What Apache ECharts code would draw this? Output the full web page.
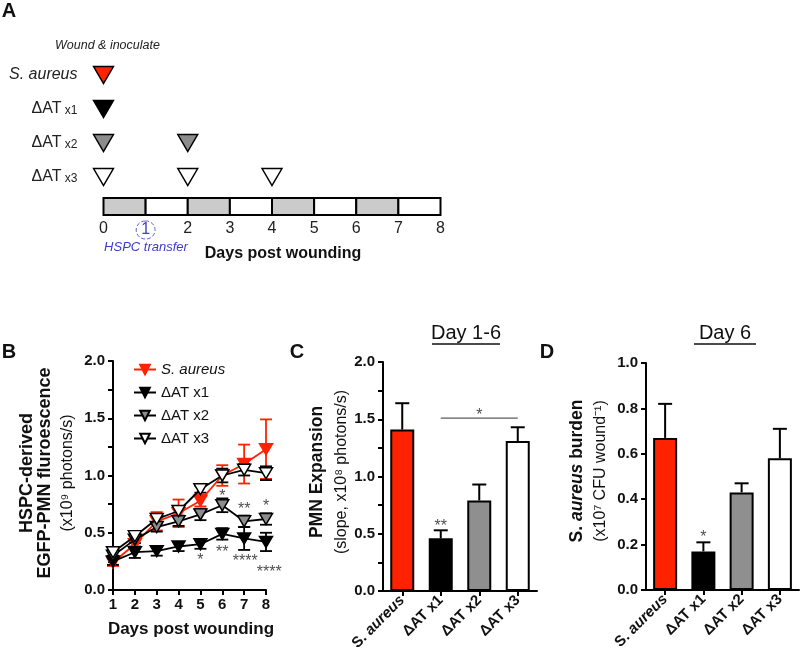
<!DOCTYPE html>
<html><head><meta charset="utf-8">
<script src="https://cdn.jsdelivr.net/npm/echarts@6/dist/echarts.min.js"></script>
<style>html,body{margin:0;padding:0;background:#fff}#c{width:800px;height:656px}</style>
</head><body><div id="c"></div>
<script>
// ---------- Panel A: schedule ----------
const schedRows = ['S. aureus', 'ΔAT x1', 'ΔAT x2', 'ΔAT x3'];
const schedDays = [[0], [0], [0, 2], [0, 2, 4]];
const timelineDays = [0, 1, 2, 3, 4, 5, 6, 7, 8];
const shadedDays = [0, 2, 4, 6];
const transferDay = 1;

// ---------- Panel B: time course ----------
const days = [1, 2, 3, 4, 5, 6, 7, 8];
const seriesNames = ['S. aureus', 'ΔAT x1', 'ΔAT x2', 'ΔAT x3'];
const saMean = [0.24, 0.40, 0.60, 0.67, 0.78, 1.00, 1.10, 1.23];
const saErr  = [0.03, 0.04, 0.08, 0.12, 0.05, 0.09, 0.17, 0.26];
const x1Mean = [0.25, 0.33, 0.34, 0.38, 0.40, 0.49, 0.45, 0.42];
const x1Err  = [0.03, 0.05, 0.04, 0.04, 0.04, 0.05, 0.10, 0.08];
const x2Mean = [0.30, 0.44, 0.55, 0.60, 0.66, 0.74, 0.60, 0.62];
const x2Err  = [0.03, 0.03, 0.04, 0.04, 0.05, 0.06, 0.05, 0.05];
const x3Mean = [0.33, 0.47, 0.62, 0.69, 0.88, 1.00, 1.05, 1.02];
const x3Err  = [0.03, 0.03, 0.04, 0.04, 0.03, 0.06, 0.05, 0.06];
// significance marks: [day, value, text]
const bSig = [[6, 0.85, '*'], [7, 0.74, '**'], [8, 0.76, '*'], [5, 0.29, '*'], [6, 0.36, '**'], [7.05, 0.28, '****'], [8.15, 0.19, '****']];

// ---------- Panels C & D: bars ----------
const barCats = ['S. aureus', 'ΔAT x1', 'ΔAT x2', 'ΔAT x3'];
const pmnSlope    = [1.41, 0.46, 0.79, 1.31];
const pmnSlopeErr = [0.23, 0.07, 0.14, 0.12];
const cSigBracket = ['ΔAT x1', 'ΔAT x3', 1.51];
const cSig = [['ΔAT x2', 1.57, '*'], ['ΔAT x1', 0.60, '**']];
const burden    = [0.67, 0.17, 0.43, 0.58];
const burdenErr = [0.15, 0.04, 0.04, 0.13];
const dSig = [['ΔAT x1', 0.25, '*']];

// ---------- styling ----------
const FONT = '"Liberation Sans", Arial, Helvetica, sans-serif';
const RED = '#ff2200', GRAY = '#8c8c8c';
const rowColors = [RED, '#000', GRAY, '#fff'];
const barColors = [RED, '#000', '#8f8f8f', '#fff'];
const lineDefs = [
  {mean: saMean, err: saErr, fill: RED, stroke: RED},
  {mean: x1Mean, err: x1Err, fill: '#000', stroke: '#000'},
  {mean: x2Mean, err: x2Err, fill: GRAY, stroke: '#000'},
  {mean: x3Mean, err: x3Err, fill: '#fff', stroke: '#000'}
];
const triPath = 'path://M0,0L20,0L10,17Z';

const axLine = {show: true, lineStyle: {color: '#000', width: 2}};
const axTick = {show: true, length: 5, lineStyle: {color: '#000', width: 2}};
const numLabel = {fontSize: 15, fontWeight: 'bold', color: '#111', fontFamily: FONT};
const catRich = {
  b: {fontSize: 15, fontWeight: 'bold', color: '#111', fontFamily: FONT},
  bi: {fontSize: 15, fontWeight: 'bold', fontStyle: 'italic', color: '#111', fontFamily: FONT}
};
const catFmt = v => v === 'S. aureus' ? '{b|S. }{bi|aureus}' : '{b|' + v + '}';

function errBar(color, lw, capW, upperOnly) {
  return function (params, api) {
    const x = api.value(0), m = api.value(1), e = api.value(2);
    const top = api.coord([x, m + e]);
    const bot = api.coord([x, upperOnly ? m : m - e]);
    const st = {stroke: color, lineWidth: lw};
    const ch = [
      {type: 'line', shape: {x1: top[0], y1: top[1], x2: bot[0], y2: bot[1]}, style: st},
      {type: 'line', shape: {x1: top[0] - capW / 2, y1: top[1], x2: top[0] + capW / 2, y2: top[1]}, style: st}
    ];
    if (!upperOnly) ch.push({type: 'line', shape: {x1: bot[0] - capW / 2, y1: bot[1], x2: bot[0] + capW / 2, y2: bot[1]}, style: st});
    return {type: 'group', children: ch};
  };
}

function sigSeries(xi, yi, data) {
  return {
    type: 'scatter', xAxisIndex: xi, yAxisIndex: yi, clip: false, silent: true,
    symbolSize: 0, itemStyle: {color: 'transparent'}, z: 6,
    data: data,
    label: {show: true, position: 'inside', formatter: p => p.value[2], fontSize: 16, color: '#222', fontFamily: FONT, offset: [0, 4]}
  };
}

const series = [];
// A triangles
series.push({
  type: 'scatter', xAxisIndex: 0, yAxisIndex: 0, symbol: triPath, symbolSize: [20, 17], z: 5,
  itemStyle: {borderColor: '#000', borderWidth: 1.4, opacity: 1},
  data: schedRows.flatMap((r, i) => schedDays[i].map(d => ({value: [d, r], itemStyle: {color: rowColors[i], opacity: 1}})))
});
// A timeline
series.push({
  type: 'custom', xAxisIndex: 1, yAxisIndex: 1,
  data: timelineDays.slice(0, -1).map(d => [d, d + 1, shadedDays.includes(d) ? 1 : 0]),
  renderItem: (p, api) => {
    const a = api.coord([api.value(0), 1]), b = api.coord([api.value(1), 0]);
    return {type: 'rect', shape: {x: a[0], y: a[1], width: b[0] - a[0], height: b[1] - a[1]},
      style: {fill: api.value(2) ? '#cbcbcb' : '#fff', stroke: '#000', lineWidth: 2}};
  }
});
// B error bars + lines
lineDefs.forEach((L, k) => {
  series.push({
    type: 'custom', name: 'err' + k, xAxisIndex: 2, yAxisIndex: 2, z: 3,
    data: days.map((d, i) => [d, L.mean[i], L.err[i]]),
    renderItem: errBar(L.stroke, 1.8, 12, false)
  });
});
lineDefs.forEach((L, k) => {
  series.push({
    name: seriesNames[k], type: 'line', xAxisIndex: 2, yAxisIndex: 2, z: 4 + k * 0.1,
    data: days.map((d, i) => [d, L.mean[i]]),
    symbol: triPath, symbolSize: [13, 11], showAllSymbol: true,
    lineStyle: {color: L.stroke, width: 1.8},
    itemStyle: {color: L.fill, borderColor: L.stroke, borderWidth: 1.5, opacity: 1}
  });
});
series.push(sigSeries(2, 2, bSig));
// C bars
series.push({
  type: 'bar', xAxisIndex: 3, yAxisIndex: 3, barWidth: 24, z: 2,
  itemStyle: {borderColor: '#000', borderWidth: 2},
  data: pmnSlope.map((v, i) => ({value: v, itemStyle: {color: barColors[i]}}))
});
series.push({
  type: 'custom', xAxisIndex: 3, yAxisIndex: 3, z: 3,
  data: pmnSlope.map((v, i) => [i, v, pmnSlopeErr[i]]),
  renderItem: errBar('#000', 2, 14, true)
});
series.push({
  type: 'line', xAxisIndex: 3, yAxisIndex: 3, symbol: 'none', silent: true, z: 3,
  lineStyle: {color: '#333', width: 1},
  data: [[cSigBracket[0], cSigBracket[2]], [cSigBracket[1], cSigBracket[2]]]
});
series.push(sigSeries(3, 3, cSig));
// D bars
series.push({
  type: 'bar', xAxisIndex: 4, yAxisIndex: 4, barWidth: 24, z: 2,
  itemStyle: {borderColor: '#000', borderWidth: 2},
  data: burden.map((v, i) => ({value: v, itemStyle: {color: barColors[i]}}))
});
series.push({
  type: 'custom', xAxisIndex: 4, yAxisIndex: 4, z: 3,
  data: burden.map((v, i) => [i, v, burdenErr[i]]),
  renderItem: errBar('#000', 2, 14, true)
});
series.push(sigSeries(4, 4, dSig));

// ---------- text graphics ----------
function T(x, y, text, o) {
  o = o || {};
  const st = {text: text, fontSize: o.size || 16, fontWeight: o.bold ? 'bold' : 'normal',
    fontStyle: o.italic ? 'italic' : 'normal', fontFamily: FONT, fill: o.color || '#111',
    align: o.align || 'center', verticalAlign: 'middle', textAlign: o.align || 'center', textVerticalAlign: 'middle'};
  if (o.rich) st.rich = o.rich;
  return {type: 'text', x: x, y: y, rotation: o.rot || 0, silent: true, style: st};
}
const R = Math.PI / 2;
const uline = (x1, x2, y) => ({type: 'line', silent: true, shape: {x1: x1, y1: y, x2: x2, y2: y}, style: {stroke: '#111', lineWidth: 1.5}});
const graphics = [
  T(9, 11, 'A', {bold: true, size: 20}),
  T(9, 352, 'B', {bold: true, size: 20}),
  T(297, 352, 'C', {bold: true, size: 20}),
  T(547, 352, 'D', {bold: true, size: 20}),
  T(55, 46, 'Wound & inoculate', {italic: true, size: 12.5, align: 'left', color: '#222'}),
  T(146, 247, 'HSPC transfer', {italic: true, size: 13, color: '#3c3cc8'}),
  T(283, 254, 'Days post wounding', {bold: true, size: 16}),
  T(27, 473, 'HSPC-derived', {bold: true, size: 18, rot: R}),
  T(45, 473, 'EGFP-PMN fluroescence', {bold: true, size: 18, rot: R}),
  T(68, 473, '(x10⁹ photons/s)', {size: 16, rot: R}),
  T(191, 629, 'Days post wounding', {bold: true, size: 17}),
  T(317, 472, 'PMN Expansion', {bold: true, size: 17.5, rot: R}),
  T(342, 472, '(slope, x10⁸ photons/s)', {size: 16, rot: R}),
  T(577, 471, '{b|S. }{bi|aureus}{b| burden}', {rot: R, rich: {
    b: {fontSize: 17.5, fontWeight: 'bold', fontFamily: FONT, fill: '#111', color: '#111'},
    bi: {fontSize: 17.5, fontWeight: 'bold', fontStyle: 'italic', fontFamily: FONT, fill: '#111', color: '#111'}}}),
  T(601, 471, '(x10⁷ CFU wound⁻¹)', {size: 16, rot: R}),
  T(466, 333, 'Day 1-6', {size: 20}),
  uline(432, 500, 344),
  T(725, 333, 'Day 6', {size: 20}),
  uline(694, 756, 344)
];

const option = {
  animation: false,
  backgroundColor: '#fff',
  textStyle: {fontFamily: FONT},
  grid: [
    {left: 103.5, top: 58, width: 337, height: 136},
    {left: 103.5, top: 198, width: 337, height: 17},
    {left: 113, top: 361, width: 153, height: 229},
    {left: 383, top: 362, width: 154, height: 229},
    {left: 646, top: 363, width: 153, height: 227}
  ],
  legend: {
    data: seriesNames, orient: 'vertical', left: 128, top: 357, itemWidth: 22, itemHeight: 12, itemGap: 8,
    textStyle: {fontSize: 15, color: '#111', fontFamily: FONT, rich: {i: {fontSize: 15, fontStyle: 'italic', color: '#111', fontFamily: FONT}}},
    formatter: n => n === 'S. aureus' ? '{i|S. aureus}' : n
  },
  xAxis: [
    {gridIndex: 0, type: 'value', min: 0, max: 8, show: false},
    {gridIndex: 1, type: 'value', min: 0, max: 8, interval: 1,
      axisLine: {show: false}, axisTick: {show: false}, splitLine: {show: false},
      axisLabel: {fontSize: 16, color: '#222', margin: 6, fontFamily: FONT,
        formatter: v => v === transferDay ? '{c|' + v + '}' : String(v),
        rich: {c: {fontSize: 16, color: '#4040c8', fontFamily: FONT, borderColor: '#6060d0', borderWidth: 1,
          borderType: 'dashed', borderRadius: 9, padding: [1, 5, 1, 5]}}}},
    {gridIndex: 2, type: 'value', min: 1, max: 8, interval: 1, axisLine: axLine, axisTick: axTick,
      splitLine: {show: false}, axisLabel: Object.assign({margin: 7}, numLabel)},
    {gridIndex: 3, type: 'category', data: barCats, axisLine: axLine,
      axisTick: Object.assign({alignWithLabel: true}, axTick),
      axisLabel: {rotate: 45, interval: 0, margin: 7, formatter: catFmt, rich: catRich}},
    {gridIndex: 4, type: 'category', data: barCats, axisLine: axLine,
      axisTick: Object.assign({alignWithLabel: true}, axTick),
      axisLabel: {rotate: 45, interval: 0, margin: 7, formatter: catFmt, rich: catRich}}
  ],
  yAxis: [
    {gridIndex: 0, type: 'category', data: schedRows, inverse: true,
      axisLine: {show: false}, axisTick: {show: false}, splitLine: {show: false},
      axisLabel: {margin: 26, fontFamily: FONT,
        formatter: v => v === 'S. aureus' ? '{i|S. aureus}' : '{d|' + v.split(' ')[0] + '}{s| ' + v.split(' ')[1] + '}',
        rich: {
          i: {fontSize: 16, fontStyle: 'italic', color: '#222', fontFamily: FONT},
          d: {fontSize: 16, color: '#222', fontFamily: FONT, verticalAlign: 'bottom'},
          s: {fontSize: 12, color: '#222', fontFamily: FONT, verticalAlign: 'bottom'}
        }}},
    {gridIndex: 1, type: 'value', min: 0, max: 1, show: false},
    {gridIndex: 2, type: 'value', min: 0, max: 2, interval: 0.5, axisLine: axLine, axisTick: axTick,
      minorTick: {show: true, splitNumber: 2, length: 5, lineStyle: {color: '#000', width: 2}},
      splitLine: {show: false}, minorSplitLine: {show: false},
      axisLabel: Object.assign({margin: 8, formatter: v => v.toFixed(1)}, numLabel)},
    {gridIndex: 3, type: 'value', min: 0, max: 2, interval: 0.5, axisLine: axLine, axisTick: axTick,
      minorTick: {show: true, splitNumber: 2, length: 5, lineStyle: {color: '#000', width: 2}},
      splitLine: {show: false}, minorSplitLine: {show: false},
      axisLabel: Object.assign({margin: 8, formatter: v => v.toFixed(1)}, numLabel)},
    {gridIndex: 4, type: 'value', min: 0, max: 1, interval: 0.2, axisLine: axLine, axisTick: axTick,
      splitLine: {show: false},
      axisLabel: Object.assign({margin: 8, formatter: v => v.toFixed(1)}, numLabel)}
  ],
  series: series,
  graphic: {elements: graphics}
};

const chart = echarts.init(document.getElementById('c'), null, {renderer: 'canvas', width: 800, height: 656});
chart.setOption(option);
</script>
</body></html>
